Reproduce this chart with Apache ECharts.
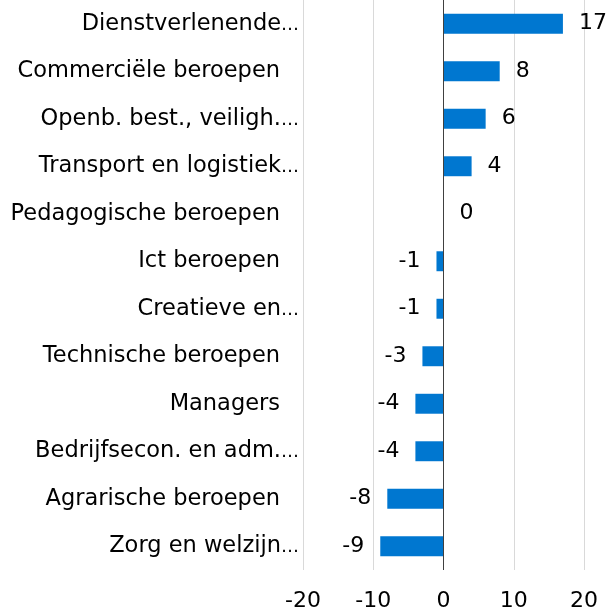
<!DOCTYPE html>
<html><head><meta charset="utf-8">
<script src="https://cdn.jsdelivr.net/npm/echarts@6/dist/echarts.min.js"></script>
<style>html,body{margin:0;padding:0;background:#fff}#c{width:614px;height:612px}</style>
</head><body><div id="c"></div>
<script>
const categories = [
  "Dienstverlenende…",
  "Commerciële beroepen ",
  "Openb. best., veiligh.…",
  "Transport en logistiek…",
  "Pedagogische beroepen ",
  "Ict beroepen ",
  "Creatieve en…",
  "Technische beroepen ",
  "Managers ",
  "Bedrijfsecon. en adm.…",
  "Agrarische beroepen ",
  "Zorg en welzijn…"
];
const values = [17, 8, 6, 4, 0, -1, -1, -3, -4, -4, -8, -9];
const xTicks = [-20, -10, 0, 10, 20];

const font = '"DejaVu Sans", sans-serif';
const catSize = 22.5;
const chart = echarts.init(document.getElementById('c'));
chart.setOption({
  animation: false,
  grid: { left: 303, right: 30, top: -2, bottom: 42, containLabel: false },
  xAxis: {
    type: 'value', min: xTicks[0], max: xTicks[xTicks.length - 1], interval: 10,
    axisLine: { show: false }, axisTick: { show: false },
    splitLine: { show: true, lineStyle: { color: '#d9d9d9', width: 1 } },
    axisLabel: { fontFamily: font, fontSize: 22, color: '#000', margin: 20 }
  },
  yAxis: {
    type: 'category', data: categories, inverse: true,
    axisLine: { show: false }, axisTick: { show: false },
    axisLabel: {
      fontFamily: font, fontSize: catSize, color: '#000', margin: 4,
      formatter: function (s) {
        if (/ $/.test(s)) return '{p|' + s.trim() + '}';
        if (/…$/.test(s)) return '{t|' + s.slice(0, -1) + '}{e|…}';
        return '{t|' + s + '}';
      },
      rich: {
        p: { fontFamily: font, fontSize: catSize, color: '#000', padding: [0, 19, 0, 0] },
        t: { fontFamily: font, fontSize: catSize, color: '#000' },
        e: { fontFamily: font, fontSize: 18, color: '#000', verticalAlign: 'bottom', padding: [0, 0, 1, 0] }
      }
    }
  },
  series: [{
    type: 'bar',
    data: values.map(v => ({
      value: v,
      label: { position: v < 0 ? 'left' : 'right' }
    })),
    barCategoryGap: '58%',
    itemStyle: { color: '#0077D0' },
    label: { show: true, fontFamily: font, fontSize: 22, color: '#000', distance: 16 },
    markLine: {
      silent: true, symbol: 'none', label: { show: false },
      lineStyle: { color: '#404040', width: 1, type: 'solid' },
      data: [{ xAxis: 0 }]
    }
  }]
});
</script></body></html>
